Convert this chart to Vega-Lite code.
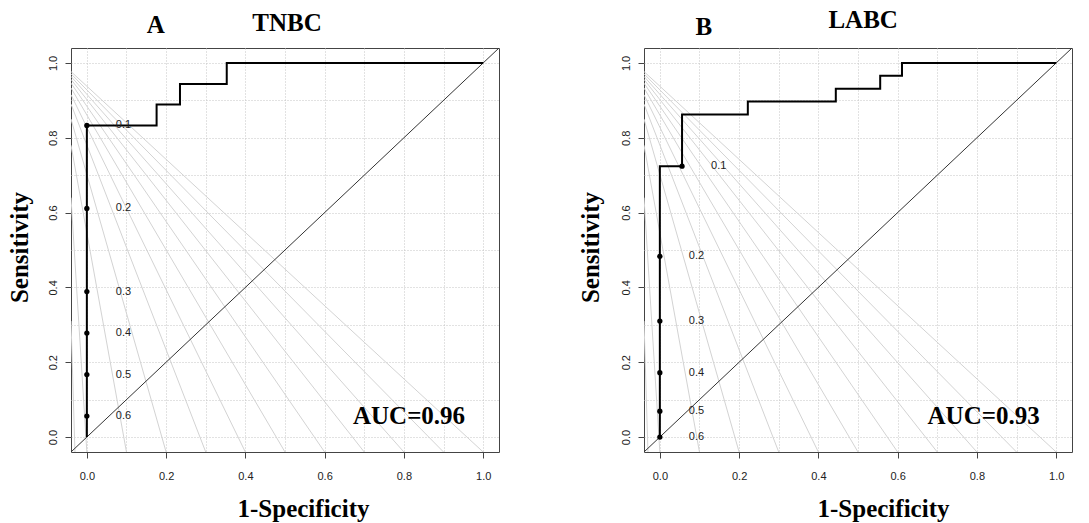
{
  "$schema": "https://vega.github.io/schema/vega-lite/v6.json",
  "background": "white",
  "padding": {"left": 6, "top": 7, "right": 0, "bottom": 0},
  "spacing": 145,
  "bounds": "flush",
  "config": {
    "font": "Liberation Sans",
    "view": {"stroke": "#444", "strokeWidth": 1},
    "axis": {
      "domain": false,
      "grid": true,
      "gridDash": [1, 2],
      "gridColor": "#c4c4c4",
      "gridWidth": 1,
      "values": [0, 0.1, 0.2, 0.3, 0.4, 0.5, 0.6, 0.7, 0.8, 0.9, 1.0],
      "labelExpr": "round(datum.value*10) % 2 === 0 ? format(datum.value, '.1f') : ''",
      "tickOpacity": {"condition": {"test": "round(datum.value*10) % 2 === 0", "value": 1}, "value": 0},
      "tickSize": 6,
      "tickColor": "#444",
      "labelFont": "Liberation Sans",
      "labelFontSize": 11,
      "labelColor": "#222",
      "titleFont": "Liberation Serif",
      "titleFontSize": 25,
      "titleFontWeight": "bold",
      "titleColor": "#000"
    },
    "axisX": {"labelPadding": 12, "labelAngle": 0},
    "axisY": {"labelPadding": 7, "labelAngle": 270, "labelAlign": "center", "labelBaseline": "bottom"}
  },
  "datasets": {
    "fan": [
      {"x": -0.04, "y": 0.977, "x2": 1.0, "y2": -0.04},
      {"x": -0.04, "y": 0.971, "x2": 0.9, "y2": -0.04},
      {"x": -0.04, "y": 0.964, "x2": 0.8, "y2": -0.04},
      {"x": -0.04, "y": 0.956, "x2": 0.7, "y2": -0.04},
      {"x": -0.04, "y": 0.946, "x2": 0.6, "y2": -0.04},
      {"x": -0.04, "y": 0.933, "x2": 0.5, "y2": -0.04},
      {"x": -0.04, "y": 0.915, "x2": 0.4, "y2": -0.04},
      {"x": -0.04, "y": 0.89, "x2": 0.3, "y2": -0.04},
      {"x": -0.04, "y": 0.85, "x2": 0.2, "y2": -0.04},
      {"x": -0.04, "y": 0.78, "x2": 0.1, "y2": -0.04},
      {"x": -0.04, "y": 0.64, "x2": 0.0, "y2": -0.04},
      {"x": -0.04, "y": 0.31, "x2": -0.03, "y2": -0.04}
    ],
    "diag": [{"x": -0.04, "y": -0.04, "x2": 1.04, "y2": 1.04}],
    "rocA": [
      {"x": 0, "y": 0, "o": 0}, {"x": 0, "y": 0.833, "o": 1}, {"x": 0.176, "y": 0.833, "o": 2},
      {"x": 0.176, "y": 0.889, "o": 3}, {"x": 0.235, "y": 0.889, "o": 4}, {"x": 0.235, "y": 0.944, "o": 5},
      {"x": 0.353, "y": 0.944, "o": 6}, {"x": 0.353, "y": 1, "o": 7}, {"x": 1, "y": 1, "o": 8}
    ],
    "ptsA": [
      {"x": 0, "y": 0.833, "t": "0.1"}, {"x": 0, "y": 0.611, "t": "0.2"}, {"x": 0, "y": 0.389, "t": "0.3"},
      {"x": 0, "y": 0.278, "t": "0.4"}, {"x": 0, "y": 0.167, "t": "0.5"}, {"x": 0, "y": 0.056, "t": "0.6"}
    ],
    "annA": [
      {"x": 0.813, "y": 0.035, "t": "AUC=0.96"},
      {"x": 0.174, "y": 1.08, "t": "A"},
      {"x": 0.505, "y": 1.086, "t": "TNBC"}
    ],
    "rocB": [
      {"x": 0, "y": 0, "o": 0}, {"x": 0, "y": 0.724, "o": 1}, {"x": 0.056, "y": 0.724, "o": 2},
      {"x": 0.056, "y": 0.862, "o": 3}, {"x": 0.222, "y": 0.862, "o": 4}, {"x": 0.222, "y": 0.897, "o": 5},
      {"x": 0.444, "y": 0.897, "o": 6}, {"x": 0.444, "y": 0.931, "o": 7}, {"x": 0.556, "y": 0.931, "o": 8},
      {"x": 0.556, "y": 0.966, "o": 9}, {"x": 0.611, "y": 0.966, "o": 10}, {"x": 0.611, "y": 1, "o": 11},
      {"x": 1, "y": 1, "o": 12}
    ],
    "ptsB": [
      {"x": 0.056, "y": 0.724, "t": "0.1"}, {"x": 0, "y": 0.483, "t": "0.2"}, {"x": 0, "y": 0.31, "t": "0.3"},
      {"x": 0, "y": 0.172, "t": "0.4"}, {"x": 0, "y": 0.069, "t": "0.5"}, {"x": 0, "y": 0.0, "t": "0.6"}
    ],
    "annB": [
      {"x": 0.817, "y": 0.035, "t": "AUC=0.93"},
      {"x": 0.111, "y": 1.075, "t": "B"},
      {"x": 0.513, "y": 1.094, "t": "LABC"}
    ]
  },
  "hconcat": [
    {
      "width": 428,
      "height": 404,
      "encoding": {
        "x": {"field": "x", "type": "quantitative", "scale": {"domain": [-0.04, 1.04], "nice": false, "zero": false},
              "axis": {"title": "1-Specificity", "titleX": 232, "titleY": 64, "titleAlign": "center", "titleBaseline": "alphabetic"}},
        "y": {"field": "y", "type": "quantitative", "scale": {"domain": [-0.04, 1.04], "nice": false, "zero": false},
              "axis": {"title": "Sensitivity", "titleAngle": 270, "titleX": -44, "titleY": 199, "titleAlign": "center", "titleBaseline": "alphabetic"}}
      },
      "layer": [
        {"data": {"name": "fan"}, "mark": {"type": "rule", "color": "#d3d3d3", "strokeWidth": 1, "clip": true},
         "encoding": {"x2": {"field": "x2"}, "y2": {"field": "y2"}}},
        {"data": {"name": "diag"}, "mark": {"type": "rule", "color": "#333", "strokeWidth": 1, "clip": true},
         "encoding": {"x2": {"field": "x2"}, "y2": {"field": "y2"}}},
        {"data": {"name": "rocA"}, "mark": {"type": "line", "color": "#000", "strokeWidth": 2},
         "encoding": {"order": {"field": "o", "type": "quantitative"}}},
        {"data": {"name": "ptsA"}, "mark": {"type": "point", "filled": true, "color": "#000", "opacity": 1, "size": 28}},
        {"data": {"name": "ptsA"}, "mark": {"type": "text", "align": "left", "baseline": "middle", "dx": 29, "fontSize": 11, "color": "#222", "font": "Liberation Sans"},
         "encoding": {"text": {"field": "t"}}},
        {"data": {"name": "annA"}, "mark": {"type": "text", "align": "center", "baseline": "alphabetic", "fontSize": 25, "fontWeight": "bold", "color": "#000", "font": "Liberation Serif"},
         "encoding": {"text": {"field": "t"}}}
      ]
    },
    {
      "width": 428,
      "height": 404,
      "encoding": {
        "x": {"field": "x", "type": "quantitative", "scale": {"domain": [-0.04, 1.04], "nice": false, "zero": false},
              "axis": {"title": "1-Specificity", "titleX": 239, "titleY": 64, "titleAlign": "center", "titleBaseline": "alphabetic"}},
        "y": {"field": "y", "type": "quantitative", "scale": {"domain": [-0.04, 1.04], "nice": false, "zero": false},
              "axis": {"title": "Sensitivity", "titleAngle": 270, "titleX": -46, "titleY": 199, "titleAlign": "center", "titleBaseline": "alphabetic"}}
      },
      "layer": [
        {"data": {"name": "fan"}, "mark": {"type": "rule", "color": "#d3d3d3", "strokeWidth": 1, "clip": true},
         "encoding": {"x2": {"field": "x2"}, "y2": {"field": "y2"}}},
        {"data": {"name": "diag"}, "mark": {"type": "rule", "color": "#333", "strokeWidth": 1, "clip": true},
         "encoding": {"x2": {"field": "x2"}, "y2": {"field": "y2"}}},
        {"data": {"name": "rocB"}, "mark": {"type": "line", "color": "#000", "strokeWidth": 2},
         "encoding": {"order": {"field": "o", "type": "quantitative"}}},
        {"data": {"name": "ptsB"}, "mark": {"type": "point", "filled": true, "color": "#000", "opacity": 1, "size": 28}},
        {"data": {"name": "ptsB"}, "mark": {"type": "text", "align": "left", "baseline": "middle", "dx": 29, "fontSize": 11, "color": "#222", "font": "Liberation Sans"},
         "encoding": {"text": {"field": "t"}}},
        {"data": {"name": "annB"}, "mark": {"type": "text", "align": "center", "baseline": "alphabetic", "fontSize": 25, "fontWeight": "bold", "color": "#000", "font": "Liberation Serif"},
         "encoding": {"text": {"field": "t"}}}
      ]
    }
  ]
}
